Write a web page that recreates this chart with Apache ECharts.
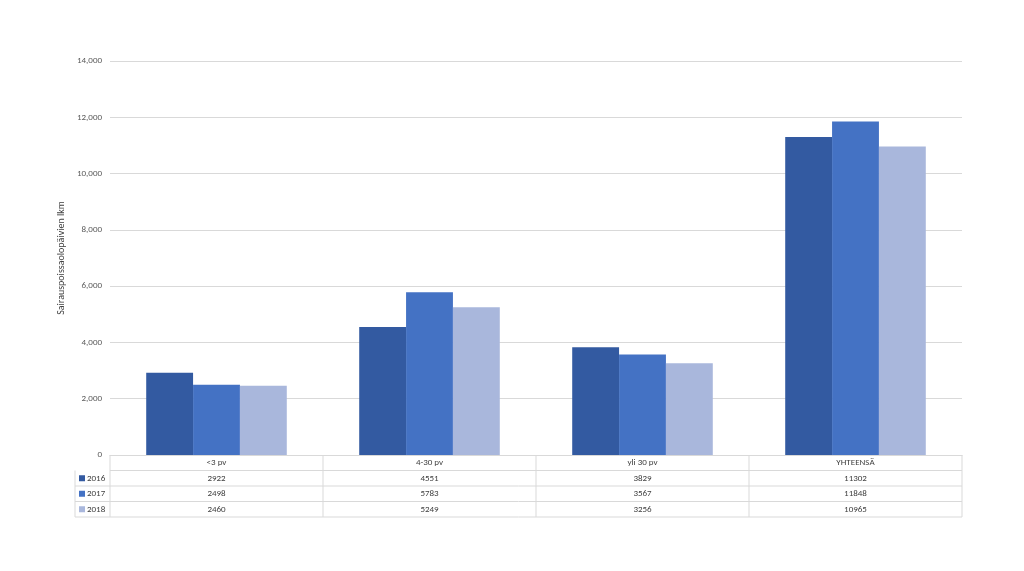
<!DOCTYPE html><html><head><meta charset="utf-8"><script src="https://cdn.jsdelivr.net/npm/echarts@6/dist/echarts.min.js"></script>
<style>html,body{margin:0;background:#fff}#c{width:1024px;height:571px}</style></head><body><div id="c"></div><script>
const categories=['<3 pv','4-30 pv','yli 30 pv','YHTEENSÄ'];
const years=['2016','2017','2018'];
const s2016=[2922,4551,3829,11302];
const s2017=[2498,5783,3567,11848];
const s2018=[2460,5249,3256,10965];
const colors=['#335AA1','#4472C4','#A9B7DC'];
const data=[s2016,s2017,s2018];
const G={left:110,right:62,top:61,bottom:116};
const chart=echarts.init(document.getElementById('c'));
const font='Calibri, Carlito, "Liberation Sans", sans-serif';
chart.setOption({animation:false,
grid:{left:G.left,right:G.right,top:G.top,bottom:G.bottom},
xAxis:{type:'category',data:categories,axisTick:{show:false},axisLabel:{show:false},axisLine:{lineStyle:{color:'#d9d9d9'}}},
yAxis:{type:'value',min:0,max:14000,interval:2000,name:'Sairauspoissaolopäivien lkm',nameLocation:'middle',nameGap:42,nameTextStyle:{color:'#404040',fontSize:10,fontFamily:font},
axisLabel:{color:'#595959',fontSize:9,fontFamily:font},splitLine:{lineStyle:{color:'#d9d9d9'}}},
series:years.map((y,i)=>({name:y,type:'bar',data:data[i],itemStyle:{color:colors[i]},barGap:'0%',barCategoryGap:'34%'}))
});
const W=chart.getWidth(),H=chart.getHeight();
const x0=G.left,x1=W-G.right,yb=H-G.bottom,rh=15.5,lx=75;
const cw=(x1-x0)/categories.length;
const line='#d9d9d9',tc='#404040',g=[];
function L(a,b,c,d){g.push({type:'line',shape:{x1:a,y1:b,x2:c,y2:d},style:{stroke:line,lineWidth:1}});}
function T(t,x,y,align){g.push({type:'text',x:x,y:y,style:{text:t,fill:tc,font:'9px '+font,align:align||'center',verticalAlign:'middle'}});}
L(x0,yb+rh,x1,yb+rh);
for(let r=1;r<=3;r++)L(lx,yb+rh*(r+1),x1,yb+rh*(r+1));
L(lx,yb+rh,lx,yb+rh*4);
for(let c=0;c<=categories.length;c++)L(x0+c*cw,yb,x0+c*cw,yb+rh*4);
categories.forEach((c,i)=>T(c,x0+cw*(i+.5),yb+rh/2));
years.forEach((y,r)=>{const yy=yb+rh*(r+1.5);
g.push({type:'rect',shape:{x:lx+4,y:yy-3,width:6,height:6},style:{fill:colors[r]}});
T(y,lx+12,yy,'left');
data[r].forEach((v,i)=>T(String(v),x0+cw*(i+.5),yy));});
chart.setOption({graphic:g});
</script></body></html>
